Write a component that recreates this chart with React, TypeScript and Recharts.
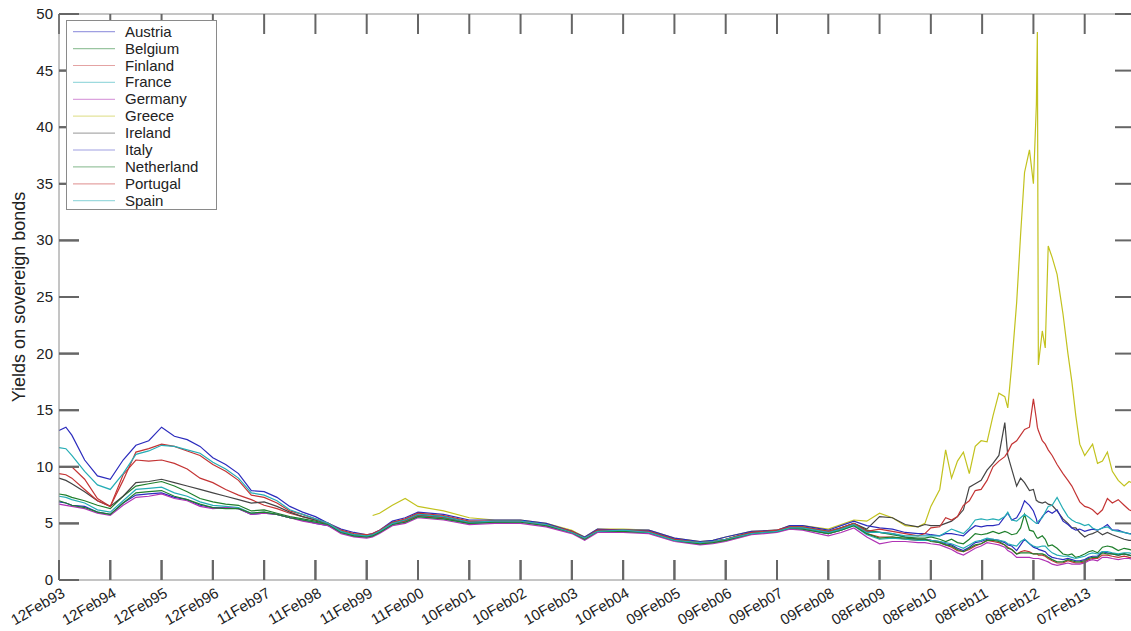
import { LineChart, Line, XAxis, YAxis, Legend, Label } from "recharts";

// x values are weeks counted from 12 Feb 1993 (weekly data, ticks every 52 weeks)
const weeks = [
  0, 7, 13, 26, 39, 52, 65, 78, 91, 104, 117, 130, 143, 156, 169, 182, 195, 208, 221, 234, 247, 260, 273,
  286, 299, 312, 318, 325, 338, 351, 364, 390, 416, 442, 468, 494, 520, 533, 546, 572, 598, 624, 650, 663, 676, 702, 728, 741, 754, 780, 793, 806, 819,
  832, 845, 858, 871, 878,
  884, 893, 899, 905, 911, 917, 923, 929, 935, 941, 947, 953, 959, 962, 966, 971, 975, 979, 984, 988, 991, 992, 993, 997, 1000, 1003, 1007, 1012, 1018, 1023, 1027, 1031, 1035, 1040, 1044, 1048, 1053, 1058, 1063, 1068, 1074, 1080, 1085, 1090,
];

const tickWeeks = [0, 52, 104, 156, 208, 260, 312, 364, 416, 468, 520, 572, 624, 676, 728, 780, 832, 884, 936, 988, 1040];
const tickLabels = [
  "12Feb93", "12Feb94", "12Feb95", "12Feb96", "11Feb97", "11Feb98", "11Feb99", "11Feb00", "10Feb01", "10Feb02", "10Feb03",
  "10Feb04", "09Feb05", "09Feb06", "09Feb07", "09Feb08", "08Feb09", "08Feb10", "08Feb11", "08Feb12", "07Feb13",
];
const yTicks = [0, 5, 10, 15, 20, 25, 30, 35, 40, 45, 50];

const austria = [
  6.9, 6.8, 6.6, 6.5, 6.0, 5.8, 6.8, 7.5, 7.6, 7.7, 7.3, 7.1, 6.6, 6.4, 6.4, 6.3, 5.8, 5.9, 5.8, 5.5, 5.3, 5.0, 4.8,
  4.2, 3.9, 3.8, 3.9, 4.2, 4.9, 5.2, 5.7, 5.5, 5.0, 5.1, 5.2, 4.8, 4.2, 3.7, 4.3, 4.3, 4.2, 3.5, 3.2, 3.3, 3.5, 4.1, 4.3, 4.6, 4.6, 4.1, 4.5, 4.9, 4.3,
  4.2, 4.1, 3.8, 3.6, 3.6,
  3.5, 3.4, 3.2, 3.1, 2.8, 2.6, 2.9, 3.3, 3.4, 3.6, 3.6, 3.5, 3.3, 3.1, 3.0, 2.6, 3.1, 3.6, 3.2, 2.9, 2.8, 2.8, 2.7, 2.6, 2.5, 2.2, 2.0, 1.9, 1.8, 1.9, 1.8, 1.7, 1.7, 1.8, 2.0, 2.1, 2.1, 2.5, 2.4, 2.3, 2.2, 2.3, 2.2, 2.1,
];
const belgium = [
  7.6, 7.5, 7.3, 7.0, 6.6, 6.3, 7.4, 8.3, 8.5, 8.7, 8.3, 7.8, 7.2, 6.9, 6.7, 6.6, 6.1, 6.2, 5.9, 5.6, 5.4, 5.2, 4.9,
  4.3, 4.0, 3.9, 4.0, 4.3, 5.0, 5.3, 5.8, 5.6, 5.1, 5.2, 5.2, 4.9, 4.3, 3.7, 4.4, 4.4, 4.3, 3.6, 3.3, 3.4, 3.6, 4.2, 4.3, 4.7, 4.7, 4.3, 4.6, 5.0, 4.4,
  4.2, 4.0, 3.8, 3.7, 3.7,
  3.8, 3.6, 3.4, 3.6, 3.3, 3.2, 3.6, 4.1, 4.0, 4.1, 4.3, 4.1, 4.3, 4.2, 4.0, 4.1, 4.6, 5.8, 4.4, 4.3, 3.8, 3.7, 3.7, 3.9, 3.6, 3.0, 3.1, 2.8, 2.3, 2.2, 2.3, 2.0, 2.1, 2.3, 2.5, 2.6, 2.4, 2.9, 3.0, 2.9, 2.6, 2.8, 2.7, 2.6,
];
const finland = [
  10.0, 10.0, 10.0, 8.9, 7.2, 6.5, 9.3, 10.6, 10.5, 10.6, 10.3, 9.8, 9.0, 8.6, 8.0, 7.5, 7.1, 6.6, 6.3, 5.9, 5.6, 5.3, 5.0,
  4.3, 3.9, 3.8, 3.9, 4.2, 5.0, 5.2, 5.7, 5.5, 5.1, 5.1, 5.2, 4.8, 4.2, 3.7, 4.3, 4.3, 4.2, 3.5, 3.2, 3.3, 3.5, 4.1, 4.3, 4.6, 4.6, 4.1, 4.4, 4.9, 4.1,
  3.8, 3.8, 3.6, 3.5, 3.5,
  3.5, 3.3, 3.1, 2.9, 2.6, 2.5, 2.7, 3.0, 3.2, 3.5, 3.4, 3.3, 3.1, 2.9, 2.7, 2.3, 2.5, 2.6, 2.5, 2.3, 2.3, 2.3, 2.2, 2.2, 2.1, 1.9, 1.7, 1.5, 1.5, 1.7, 1.6, 1.5, 1.5, 1.6, 1.8, 1.9, 1.9, 2.2, 2.2, 2.1, 2.0, 2.1, 2.0, 1.9,
];
const france = [
  7.4, 7.3, 7.1, 6.8, 6.2, 6.0, 7.0, 8.0, 8.1, 8.2, 7.7, 7.4, 6.9, 6.6, 6.5, 6.4, 5.9, 6.0, 5.8, 5.5, 5.3, 5.1, 4.9,
  4.2, 3.9, 3.8, 3.9, 4.2, 4.9, 5.1, 5.6, 5.4, 5.0, 5.1, 5.1, 4.8, 4.2, 3.7, 4.3, 4.3, 4.2, 3.5, 3.2, 3.3, 3.5, 4.1, 4.3, 4.6, 4.5, 4.1, 4.4, 4.8, 4.0,
  3.6, 3.7, 3.6, 3.5, 3.5,
  3.5, 3.4, 3.3, 3.2, 3.0, 2.8, 3.1, 3.4, 3.5, 3.7, 3.6, 3.5, 3.4, 3.2, 3.1, 3.0, 3.4, 3.6, 3.2, 3.0, 2.9, 2.9, 2.9, 3.0, 3.0, 2.7, 2.4, 2.2, 2.1, 2.1, 2.0, 1.9, 2.0, 2.1, 2.3, 2.4, 2.3, 2.5, 2.5, 2.4, 2.3, 2.4, 2.4, 2.3,
];
const germany = [
  6.7, 6.6, 6.5, 6.3, 5.9, 5.7, 6.6, 7.3, 7.4, 7.6, 7.2, 7.0, 6.5, 6.3, 6.4, 6.3, 5.8, 5.9, 5.8, 5.5, 5.2, 5.0, 4.8,
  4.1, 3.8, 3.7, 3.8, 4.1, 4.8, 5.0, 5.5, 5.3, 4.9, 5.0, 5.0, 4.7, 4.1, 3.5, 4.2, 4.2, 4.1, 3.4, 3.1, 3.2, 3.4, 4.0, 4.2, 4.5, 4.4, 3.9, 4.2, 4.6, 3.8,
  3.2, 3.4, 3.4, 3.3, 3.3,
  3.2, 3.1, 2.9, 2.7, 2.4, 2.2, 2.5, 2.8, 3.0, 3.3, 3.2, 3.1, 2.9, 2.6, 2.4, 2.0, 2.0, 2.0, 2.0, 1.9, 1.9, 1.9, 1.9, 1.8, 1.7, 1.6, 1.4, 1.3, 1.4, 1.5, 1.4, 1.4, 1.4, 1.5, 1.7, 1.8, 1.7, 2.0, 2.0, 1.9, 1.8, 1.9, 1.9, 1.8,
];
const greece = [
  null, null, null, null, null, null, null, null, null, null, null, null, null, null, null, null, null, null, null, null, null, null, null,
  null, null, null, 5.7, 5.9, 6.6, 7.2, 6.5, 6.1, 5.5, 5.3, 5.3, 5.0, 4.4, 3.8, 4.5, 4.5, 4.4, 3.7, 3.4, 3.5, 3.8, 4.3, 4.4, 4.8, 4.8, 4.5, 4.9, 5.3, 5.2,
  5.9, 5.5, 4.8, 4.7, 5.0,
  6.5, 8.0, 11.5, 9.0, 10.5, 11.3, 9.4, 11.8, 12.3, 12.2, 14.5, 16.5, 16.2, 15.2, 19.0, 24.5, 30.5, 36.0, 38.0, 35.0, 42.0, 48.4, 19.0, 22.0, 20.5, 29.5, 28.5, 27.0, 23.5, 20.0, 17.5, 14.5, 12.0, 11.0, 11.5, 12.0, 10.3, 10.5, 11.3, 9.6, 8.8, 8.3, 8.7, 8.5,
];
const ireland = [
  9.0, 8.8, 8.5, 7.8, 7.0, 6.5, 7.4, 8.6, 8.7, 8.9, 8.6, 8.3, 8.0, 7.7, 7.4, 7.1, 6.8, 6.9, 6.5, 6.0, 5.6, 5.3, 5.0,
  4.3, 4.0, 3.9, 4.0, 4.3, 5.1, 5.3, 5.8, 5.6, 5.1, 5.2, 5.2, 4.9, 4.3, 3.7, 4.4, 4.4, 4.3, 3.6, 3.3, 3.4, 3.6, 4.2, 4.3, 4.6, 4.6, 4.2, 4.6, 5.0, 4.5,
  5.6, 5.5, 4.9, 4.7, 4.9,
  4.8, 4.8, 5.0, 5.2, 5.6, 6.2, 8.2, 8.5, 8.8, 9.7, 10.3, 11.0, 13.9, 11.0, 9.8, 8.3, 9.0, 8.6, 7.9, 8.0, 7.0, 7.0, 6.9, 6.8, 6.9, 6.7, 6.6, 6.1, 5.4, 5.0, 4.6, 4.6, 4.2, 3.8, 4.0, 4.1, 4.3, 4.0, 4.2, 4.0, 3.8, 3.6, 3.5, 3.5,
];
const italy = [
  13.2, 13.5, 12.8, 10.6, 9.2, 8.9, 10.6, 11.9, 12.3, 13.5, 12.7, 12.4, 11.8, 10.8, 10.2, 9.4, 7.9, 7.8, 7.3, 6.5, 6.0, 5.6, 5.0,
  4.5, 4.2, 4.0, 4.1, 4.4, 5.2, 5.5, 6.0, 5.8, 5.3, 5.3, 5.3, 5.0, 4.3, 3.8, 4.5, 4.4, 4.4, 3.7, 3.4, 3.5, 3.8, 4.3, 4.4, 4.8, 4.8, 4.4, 4.8, 5.2, 4.8,
  4.6, 4.5, 4.2, 4.1, 4.1,
  4.0, 3.9, 4.1, 4.1, 4.0, 3.9, 4.4, 4.8, 4.7, 4.8, 4.8, 4.9, 5.6, 5.9, 5.3, 5.5, 6.1, 7.0, 6.6, 6.1, 5.4, 5.0, 5.0, 5.6, 5.9, 6.1, 5.9, 6.2, 5.2, 4.9, 4.6, 4.4, 4.5, 4.3, 4.4, 4.5, 4.4, 4.6, 4.9, 4.4, 4.4, 4.2, 4.1, 4.1,
];
const netherland = [
  7.0, 6.8, 6.6, 6.4, 6.0, 5.8, 6.8, 7.7, 7.8, 7.9, 7.4, 7.1, 6.7, 6.4, 6.3, 6.3, 5.9, 6.0, 5.8, 5.5, 5.3, 5.1, 4.9,
  4.2, 3.9, 3.8, 3.9, 4.2, 4.9, 5.1, 5.6, 5.4, 5.0, 5.1, 5.1, 4.8, 4.2, 3.6, 4.3, 4.3, 4.2, 3.5, 3.2, 3.3, 3.5, 4.1, 4.3, 4.6, 4.5, 4.1, 4.4, 4.8, 4.1,
  3.7, 3.8, 3.7, 3.6, 3.6,
  3.4, 3.3, 3.1, 3.0, 2.7, 2.5, 2.8, 3.1, 3.2, 3.5, 3.5, 3.4, 3.1, 2.8, 2.7, 2.3, 2.4, 2.4, 2.4, 2.3, 2.3, 2.3, 2.3, 2.3, 2.2, 2.0, 1.8, 1.6, 1.6, 1.8, 1.7, 1.6, 1.6, 1.7, 1.9, 2.0, 2.0, 2.4, 2.3, 2.3, 2.2, 2.3, 2.2, 2.1,
];
const portugal = [
  9.4, 9.3, 9.0, 8.0, 7.0, 6.5, 8.8, 11.3, 11.6, 12.0, 11.8, 11.4, 11.0, 10.2, 9.6, 8.8, 7.5, 7.3, 6.8, 6.1, 5.8, 5.4, 5.0,
  4.4, 4.1, 4.0, 4.1, 4.4, 5.1, 5.4, 5.9, 5.7, 5.2, 5.2, 5.2, 4.9, 4.3, 3.7, 4.4, 4.4, 4.3, 3.6, 3.3, 3.4, 3.6, 4.2, 4.4, 4.7, 4.7, 4.3, 4.6, 5.0, 4.3,
  4.5, 4.3, 4.1, 3.9, 4.1,
  4.6, 4.7, 5.5, 5.3, 5.6, 6.6, 7.0, 7.9, 8.0, 8.8, 10.0, 10.5, 10.9, 11.3, 12.0, 12.3, 12.8, 13.3, 13.5, 16.0, 14.2, 13.5, 13.2, 12.3, 12.0, 11.5, 11.0, 10.2, 9.4, 8.8, 8.3, 7.6, 6.9, 6.5, 6.4, 6.2, 5.8, 6.2, 7.2, 6.8, 7.1, 6.6, 6.2, 6.0,
];
const spain = [
  11.7, 11.6, 11.0, 9.6, 8.4, 8.0, 9.4, 11.1, 11.4, 11.9, 11.8, 11.5, 11.2, 10.4, 9.8, 9.0, 7.7, 7.5, 7.0, 6.2, 5.8, 5.4, 5.0,
  4.3, 4.0, 3.9, 4.0, 4.3, 5.0, 5.3, 5.8, 5.6, 5.1, 5.2, 5.2, 4.9, 4.2, 3.7, 4.3, 4.4, 4.2, 3.5, 3.3, 3.4, 3.6, 4.1, 4.3, 4.6, 4.6, 4.2, 4.5, 4.9, 4.2,
  4.2, 4.1, 3.9, 3.9, 3.9,
  3.9, 3.9, 4.2, 4.5, 4.3, 4.1, 4.6, 5.3, 5.4, 5.3, 5.4, 5.3, 5.6, 6.0, 5.3, 5.2, 5.5, 5.8, 5.5, 5.2, 5.0, 5.0, 5.2, 5.5, 6.0, 6.5, 6.6, 7.3, 6.3, 5.6, 5.3, 5.1, 5.0, 4.8, 4.9, 4.6, 4.4, 4.6, 4.7, 4.4, 4.3, 4.2, 4.1, 4.0,
];

const countries = [
  "Austria", "Belgium", "Finland", "France", "Germany", "Greece", "Ireland", "Italy", "Netherland", "Portugal", "Spain",
];
const seriesValues = [austria, belgium, finland, france, germany, greece, ireland, italy, netherland, portugal, spain];

// classic MATLAB line order: b, g, r, c, m, y, k, then wraps
const BLUE = "#2b2bbd";
const GREEN = "#1f7f2c";
const RED = "#c43434";
const CYAN = "#25adb5";
const MAGENTA = "#b033b5";
const YELLOW = "#c2c21e";
const DARK = "#444444";
const lineColors = [BLUE, GREEN, RED, CYAN, MAGENTA, YELLOW, DARK, BLUE, GREEN, RED, CYAN];

const AXIS = "#8a8a8a";
const TICK = "#666666";
const INK = "#222222";
const FONT = "'Liberation Sans', Arial, Helvetica, sans-serif";

// inward ticks: negative tick size, margin brings the label back to the axis line
const TICK_IN = -20;
const tickStyle = { stroke: TICK, strokeWidth: 2 };

const data = weeks.map((week, i) => {
  const row: Record<string, number | null> = { week };
  countries.forEach((name, k) => {
    row[name] = seriesValues[k][i];
  });
  return row;
});

function BottomTick(props: any) {
  const { x, y, payload } = props;
  const label = tickLabels[tickWeeks.indexOf(payload.value)];
  const tx = x + 7;
  const ty = y + 16;
  return (
    <g>
      <line x1={x} y1={y} x2={x} y2={y + TICK_IN} stroke={TICK} strokeWidth={2} />
      <text
        x={tx}
        y={ty}
        transform={`rotate(-30 ${tx} ${ty})`}
        textAnchor="end"
        fontSize={15}
        fontFamily={FONT}
        fill={INK}
      >
        {label}
      </text>
    </g>
  );
}

function LeftTick(props: any) {
  const { x, y, payload } = props;
  return (
    <g>
      <line x1={x} y1={y} x2={x - TICK_IN} y2={y} stroke={TICK} strokeWidth={2} />
      <text x={x - 6} y={y} dy={5} textAnchor="end" fontSize={15} fontFamily={FONT} fill={INK}>
        {payload.value}
      </text>
    </g>
  );
}

// top / right axes only carry tick marks
function NoLabel() {
  return <g />;
}

function LegendBox(props: any) {
  const items = props.payload || [];
  return (
    <div
      style={{
        width: 151,
        height: 190,
        boxSizing: "border-box",
        border: `1px solid ${AXIS}`,
        background: "#fff",
      }}
    >
      <svg width={149} height={188} style={{ display: "block" }}>
        {items.map((item: any, i: number) => {
          const cy = 10.7 + i * 16.9;
          return (
            <g key={item.value}>
              <line x1={6} x2={48} y1={cy} y2={cy} stroke={item.color} strokeOpacity={0.45} strokeWidth={1.2} />
              <text x={58} y={cy + 5} fontSize={15} fontFamily={FONT} fill={INK}>
                {item.value}
              </text>
            </g>
          );
        })}
      </svg>
    </div>
  );
}

function YTitle(props: any) {
  const vb = props.viewBox || { y: 14, height: 566 };
  const cx = 19;
  const cy = vb.y + vb.height / 2;
  return (
    <text
      x={cx}
      y={cy}
      dy={6}
      transform={`rotate(-90 ${cx} ${cy})`}
      textAnchor="middle"
      fontSize={18}
      fontFamily={FONT}
      fill={INK}
    >
      Yields on sovereign bonds
    </text>
  );
}

export default function App() {
  return (
    <div style={{ position: "absolute", left: 0, top: 0, width: 1131, height: 631, overflow: "hidden" }}>
      <LineChart width={1136} height={631} data={data} margin={{ top: 13, right: 0, bottom: 0, left: 0 }}>
        <XAxis
          dataKey="week"
          type="number"
          domain={[0, 1091]}
          ticks={tickWeeks}
          interval={0}
          height={51}
          tickSize={TICK_IN}
          tickMargin={-TICK_IN}
          tickLine={tickStyle}
          axisLine={{ stroke: AXIS }}
          tick={(p: any) => <BottomTick {...p} />}
        />
        <XAxis
          xAxisId="top"
          orientation="top"
          dataKey="week"
          type="number"
          domain={[0, 1091]}
          allowDataOverflow
          ticks={tickWeeks}
          interval={0}
          height={1}
          tickSize={TICK_IN}
          tickMargin={-TICK_IN}
          tickLine={tickStyle}
          axisLine={{ stroke: AXIS }}
          tick={(p: any) => <NoLabel {...p} />}
        />
        <YAxis
          type="number"
          domain={[0, 50]}
          ticks={yTicks}
          interval={0}
          width={59}
          tickSize={TICK_IN}
          tickMargin={-TICK_IN}
          tickLine={tickStyle}
          axisLine={{ stroke: AXIS }}
          tick={(p: any) => <LeftTick {...p} />}
        >
          <Label content={(p: any) => <YTitle {...p} />} />
        </YAxis>
        <YAxis
          yAxisId="right"
          orientation="right"
          type="number"
          domain={[0, 50]}
          allowDataOverflow
          ticks={yTicks}
          interval={0}
          width={1}
          tickSize={TICK_IN}
          tickMargin={-TICK_IN}
          tickLine={tickStyle}
          axisLine={{ stroke: AXIS }}
          tick={(p: any) => <NoLabel {...p} />}
        />
        {countries.map((name, k) => (
          <Line
            key={name}
            dataKey={name}
            name={name}
            type="linear"
            stroke={lineColors[k]}
            strokeWidth={1.2}
            dot={false}
            activeDot={false}
            connectNulls={false}
            isAnimationActive={false}
          />
        ))}
        <Legend
          layout="vertical"
          align="center"
          verticalAlign="middle"
          content={(p: any) => <LegendBox {...p} />}
          wrapperStyle={{ left: 66, top: 20, width: 151, height: 190 }}
        />
      </LineChart>
    </div>
  );
}
